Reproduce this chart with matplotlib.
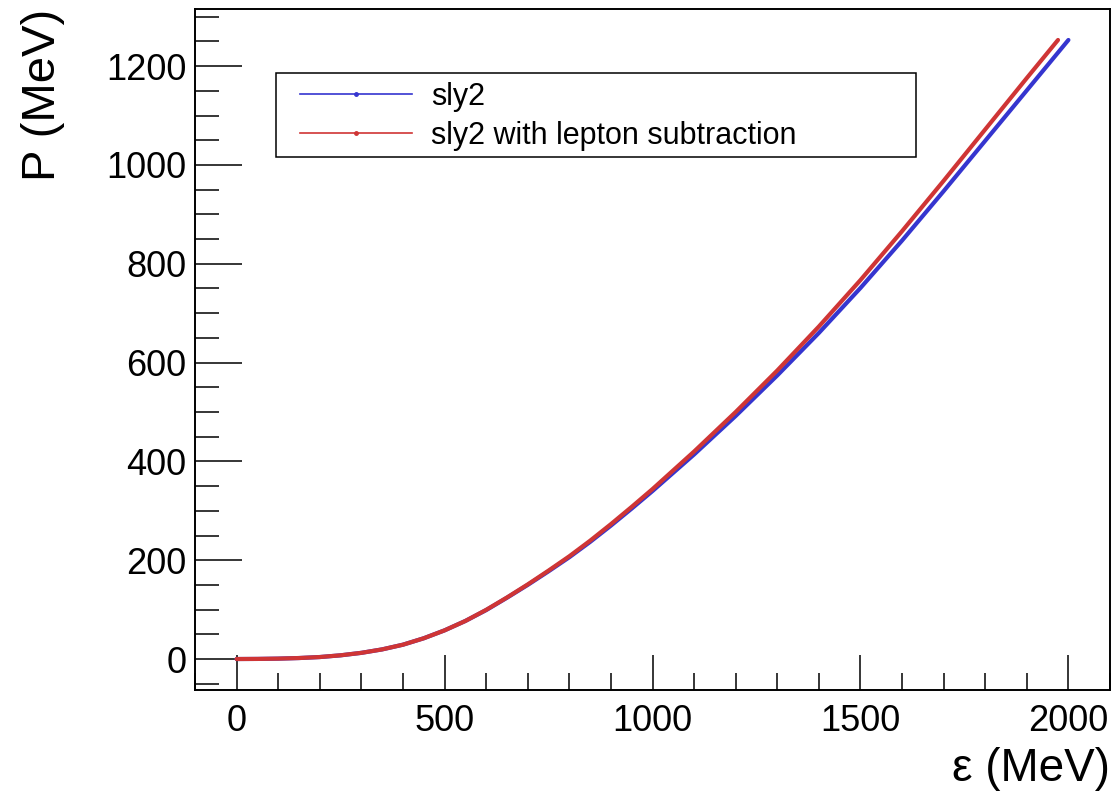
import matplotlib
matplotlib.use("Agg")
import matplotlib.pyplot as plt
from matplotlib.lines import Line2D
from matplotlib.patches import Rectangle
from matplotlib.ticker import MultipleLocator

plt.rcParams['font.family'] = ['Liberation Sans', 'DejaVu Sans']

# energy density (MeV) and pressure (MeV) for the sly2 EOS
eps_sly2 = [0, 50, 100, 150, 200, 250, 300, 350, 400, 450, 500, 550, 600,
            650, 700, 750, 800, 850, 900, 950, 1000, 1100, 1200, 1300,
            1400, 1500, 1600, 1700, 1800, 1900, 2000]
p_sly2 = [0, 0.2, 0.8, 2, 4, 7.5, 12.5, 19.5, 29, 42, 58, 77, 99,
          124, 150, 177.5, 206, 237, 270, 304.5, 340, 414, 492, 574,
          660, 751, 847, 947, 1049, 1151, 1253]

# same EOS after removing the lepton contribution
eps_sub = [0, 50, 100, 150, 200, 250, 300, 350, 400, 450, 500, 550, 600,
           650, 700, 750, 800, 850, 900, 950, 1000, 1100, 1200, 1300,
           1400, 1500, 1600, 1700, 1800, 1900, 1975]
p_sub = [0, 0.2, 0.8, 2, 4, 7.5, 12.5, 19.5, 29, 42, 58, 77, 99.5,
         124.5, 151, 179, 208, 239.5, 273, 308, 344, 420, 500, 584,
         673, 767, 866, 968, 1072, 1176, 1253]

series_labels = ['sly2', 'sly2 with lepton subtraction']
blue = '#3535cf'
red = '#cf3535'

W, H = 1112, 795
fig = plt.figure(figsize=(W / 100, H / 100), dpi=100)
ax = fig.add_axes([195 / W, 105 / H, 915 / W, 681 / H])

ax.plot(eps_sly2, p_sly2, color=blue, lw=3.0, solid_capstyle='round', zorder=3)
ax.plot(eps_sub, p_sub, color=red, lw=3.0, solid_capstyle='round', zorder=4)

ax.set_xlim(-100, 2100)
ax.set_ylim(-62.7, 1315.7)

ax.xaxis.set_major_locator(MultipleLocator(500))
ax.xaxis.set_minor_locator(MultipleLocator(100))
ax.yaxis.set_major_locator(MultipleLocator(200))
ax.yaxis.set_minor_locator(MultipleLocator(50))

ax.tick_params(which='both', direction='in', top=False, right=False,
               width=1.1, labelsize=26, color='black')
ax.tick_params(axis='y', which='major', length=34, pad=6)
ax.tick_params(axis='y', which='minor', length=17)
ax.tick_params(axis='x', which='major', length=25, pad=10)
ax.tick_params(axis='x', which='minor', length=12.5)
for s in ax.spines.values():
    s.set_linewidth(1.4)

ax.set_xlabel('ε (MeV)', fontsize=33, loc='right', labelpad=6)
ax.set_ylabel('P (MeV)', fontsize=34, loc='top', labelpad=30)

# legend box (pixel coords from the top-left corner of the figure)
box_l, box_t, box_r, box_b = 276, 73, 916, 157
fig.patches.append(Rectangle((box_l / W, 1 - box_b / H),
                             (box_r - box_l) / W, (box_b - box_t) / H,
                             transform=fig.transFigure, facecolor='white',
                             edgecolor='black', lw=1.1, zorder=5))

handles = [Line2D([], [], color=blue, lw=1.2, marker='o', markersize=2.5),
           Line2D([], [], color=red, lw=1.2, marker='o', markersize=2.5)]
leg = fig.legend(handles, series_labels, loc='upper left',
                 bbox_to_anchor=(300 / W, 1 - 82 / H),
                 borderaxespad=0, borderpad=0, frameon=False,
                 fontsize=22, handlelength=3.65, handletextpad=0.65,
                 labelspacing=0.28, numpoints=1)
leg.set_zorder(6)

fig.savefig('out.png', dpi=100)
